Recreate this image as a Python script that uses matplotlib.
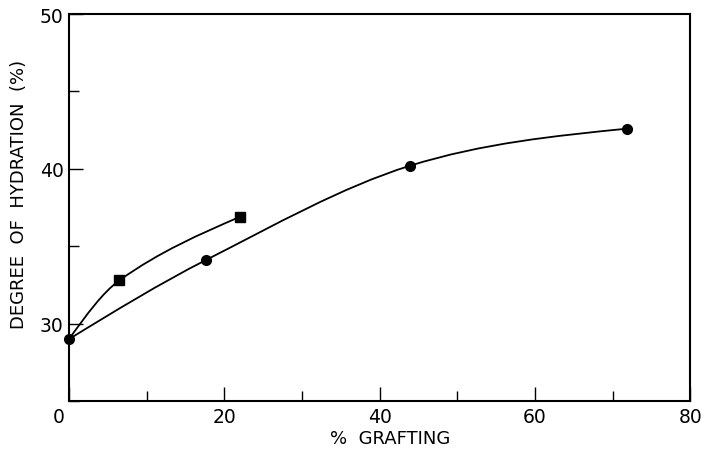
import numpy as np
import matplotlib
matplotlib.use("Agg")
import matplotlib.pyplot as plt
import matplotlib.transforms as mtransforms
from matplotlib.path import Path
from matplotlib.patches import PathPatch
from matplotlib.ticker import MultipleLocator

# circles: lower curve
circle_x = [0, 17.6, 43.9, 71.9]
circle_y = [29.0, 34.1, 40.2, 42.6]

# squares: upper short curve
square_x = [0, 6.5, 22.0]
square_y = [29.0, 32.8, 36.9]

x_ticks = [0, 20, 40, 60, 80]
y_ticks = [30, 40, 50]


def smooth_path(xs, ys):
    """Hand-drawn style curve: cubic Hermite y(x) through the points,
    written as Bezier segments so matplotlib draws it in data space."""
    x = np.asarray(xs, float)
    y = np.asarray(ys, float)
    h = np.diff(x)
    d = np.diff(y) / h
    m = np.empty_like(x)
    m[1:-1] = (y[2:] - y[:-2]) / (x[2:] - x[:-2])
    m[0] = 1.5 * d[0] - 0.5 * m[1]
    m[-1] = 1.5 * d[-1] - 0.5 * m[-2]
    verts = [(x[0], y[0])]
    codes = [Path.MOVETO]
    for i in range(len(h)):
        verts += [(x[i] + h[i] / 3, y[i] + m[i] * h[i] / 3),
                  (x[i + 1] - h[i] / 3, y[i + 1] - m[i + 1] * h[i] / 3),
                  (x[i + 1], y[i + 1])]
        codes += [Path.CURVE4] * 3
    return Path(verts, codes)


fig = plt.figure(figsize=(7.02, 4.52), dpi=100)
ax = fig.add_axes([0.0983, 0.1106, 0.885, 0.856])

for xs, ys in [(circle_x, circle_y), (square_x, square_y)]:
    ax.add_patch(PathPatch(smooth_path(xs, ys), facecolor="none",
                           edgecolor="black", lw=1.3, zorder=2))

ax.plot(circle_x, circle_y, "o", color="black", markersize=7, zorder=3,
        clip_on=False)
ax.plot(square_x[1:], square_y[1:], "s", color="black", markersize=6.5,
        zorder=3)

ax.set_xlim(0, 80)
ax.set_ylim(25, 50)
ax.set_xticks(x_ticks)
ax.set_yticks(y_ticks)
ax.xaxis.set_minor_locator(MultipleLocator(10))
ax.yaxis.set_minor_locator(MultipleLocator(5))
ax.tick_params(which="both", direction="in", width=1.0, labelsize=13.5,
               top=False, right=False)
ax.tick_params(which="major", length=10, pad=4)
ax.tick_params(which="minor", length=7)

# the "0" sits a little left of the corner, as in the original
lbl0 = ax.get_xticklabels()[0]
lbl0.set_transform(lbl0.get_transform() +
                   mtransforms.ScaledTranslation(-0.1, 0, fig.dpi_scale_trans))

for s in ax.spines.values():
    s.set_linewidth(1.5)

ax.set_xlabel("%  GRAFTING", fontsize=13)
ax.set_ylabel("DEGREE  OF  HYDRATION  (%)", fontsize=13)
ax.xaxis.set_label_coords(0.517, -0.072)
ax.yaxis.set_label_coords(-0.066, 0.537)

fig.savefig("out.png", dpi=100)
